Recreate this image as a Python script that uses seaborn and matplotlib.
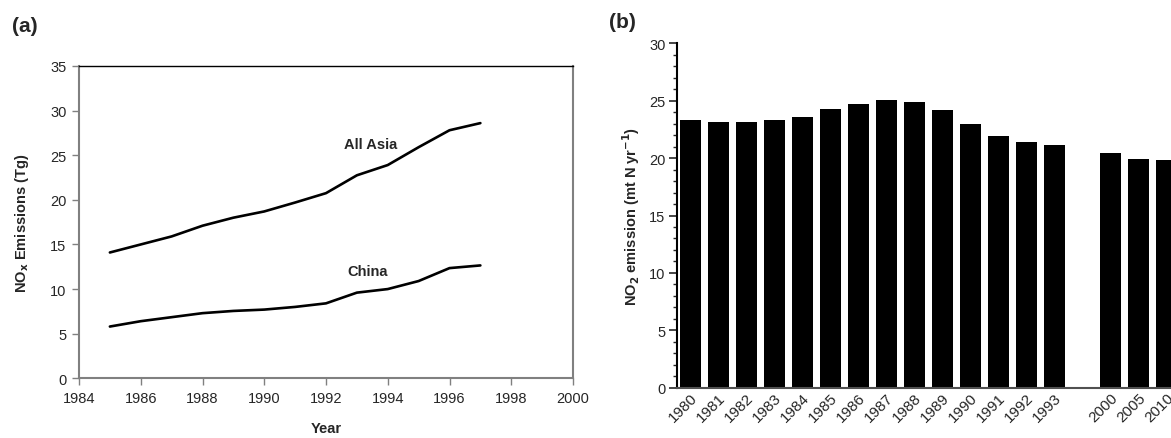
import numpy as np
import pandas as pd
import matplotlib
matplotlib.use("Agg")
import matplotlib.pyplot as plt
import seaborn as sns
from matplotlib.ticker import MultipleLocator

# panel (a): NOx emissions, lines
years_a = [1985, 1986, 1987, 1988, 1989, 1990, 1991, 1992, 1993, 1994, 1995, 1996, 1997]
all_asia = [14.1, 15.0, 15.9, 17.1, 18.0, 18.7, 19.7, 20.75, 22.75, 23.9, 25.9, 27.8, 28.6]
china = [5.8, 6.4, 6.85, 7.3, 7.55, 7.7, 8.0, 8.4, 9.6, 10.0, 10.9, 12.35, 12.65]

# panel (b): NO2 emission, bars
years_b = ['1980', '1981', '1982', '1983', '1984', '1985', '1986', '1987', '1988',
           '1989', '1990', '1991', '1992', '1993', '2000', '2005', '2010']
no2 = [23.33, 23.16, 23.16, 23.33, 23.6, 24.3, 24.7, 25.07, 24.9,
       24.2, 23.0, 21.94, 21.42, 21.16, 20.46, 19.94, 19.86]

sns.set_style("ticks")
plt.rcParams['font.family'] = ['Liberation Sans', 'DejaVu Sans']

W, H = 1171, 439
fig = plt.figure(figsize=(W / 100, H / 100), dpi=100)

def px_axes(left, top, right, bottom):
    return fig.add_axes([left / W, 1 - bottom / H, (right - left) / W, (bottom - top) / H])

gray = '#808080'

# ---- (a)
ax1 = px_axes(79, 67, 573, 379.3)
df_a = pd.DataFrame({'Year': years_a * 2,
                     'val': all_asia + china,
                     'region': ['All Asia'] * len(years_a) + ['China'] * len(years_a)})
sns.lineplot(data=df_a, x='Year', y='val', units='region', estimator=None,
             color='black', linewidth=1.9, ax=ax1)
ax1.set_xlim(1984, 2000)
ax1.set_ylim(0, 35)
ax1.set_xticks(range(1984, 2001, 2))
ax1.set_yticks(range(0, 36, 5))
ax1.tick_params(axis='both', direction='out', length=5, width=1, color=gray,
                labelsize=10.5, pad=4)
for s in ['left', 'bottom', 'right']:
    ax1.spines[s].set_color(gray)
    ax1.spines[s].set_linewidth(1.5)
ax1.spines['top'].set_visible(True)
ax1.spines['right'].set_visible(True)
ax1.spines['top'].set_color('black')
ax1.spines['top'].set_linewidth(1)
ax1.set_xlabel('Year', fontsize=10.5, fontweight='bold', labelpad=12)
ax1.set_ylabel(r'NO$_{\mathbf{x}}$ Emissions (Tg)', fontsize=10.5, fontweight='bold', labelpad=14)
ax1.text(1993.43, 26.3, 'All Asia', ha='center', va='center', fontsize=10.5, fontweight='bold')
ax1.text(1993.35, 12.0, 'China', ha='center', va='center', fontsize=10.5, fontweight='bold')
fig.text(12 / W, 1 - 26 / H, '(a)', fontsize=15, fontweight='bold', va='center', ha='left')

# ---- (b)
ax2 = px_axes(676.7, 44.3, 1171, 388.7)
order = years_b[:14] + [' '] + years_b[14:]
sns.barplot(x=years_b, y=no2, order=order, color='black', width=0.75,
            saturation=1, linewidth=0, ax=ax2)
ax2.set_xlim(-0.49, 17.16)
ax2.set_ylim(0, 30)
ax2.yaxis.set_major_locator(MultipleLocator(5))
ax2.yaxis.set_minor_locator(MultipleLocator(1))
ax2.tick_params(axis='y', which='major', direction='out', length=6, width=1.2,
                labelsize=10.5, pad=2)
ax2.tick_params(axis='y', which='minor', direction='out', length=3, width=1)
ax2.tick_params(axis='x', length=0, labelsize=11, pad=2)
for lab in ax2.get_xticklabels():
    lab.set_rotation(45)
    lab.set_ha('right')
    lab.set_rotation_mode('anchor')
sns.despine(ax=ax2)
ax2.spines['left'].set_color('black')
ax2.spines['left'].set_linewidth(1.5)
ax2.spines['bottom'].set_color('#505050')
ax2.spines['bottom'].set_linewidth(1.5)
ax2.set_ylabel(r'NO$_{\mathbf{2}}$ emission (mt N yr$^{\mathbf{-1}}$)', fontsize=10.5,
               fontweight='bold', labelpad=5)
ax2.set_xlabel('')
fig.text(609 / W, 1 - 22 / H, '(b)', fontsize=15, fontweight='bold', va='center', ha='left')

fig.savefig('out.png', dpi=100)
